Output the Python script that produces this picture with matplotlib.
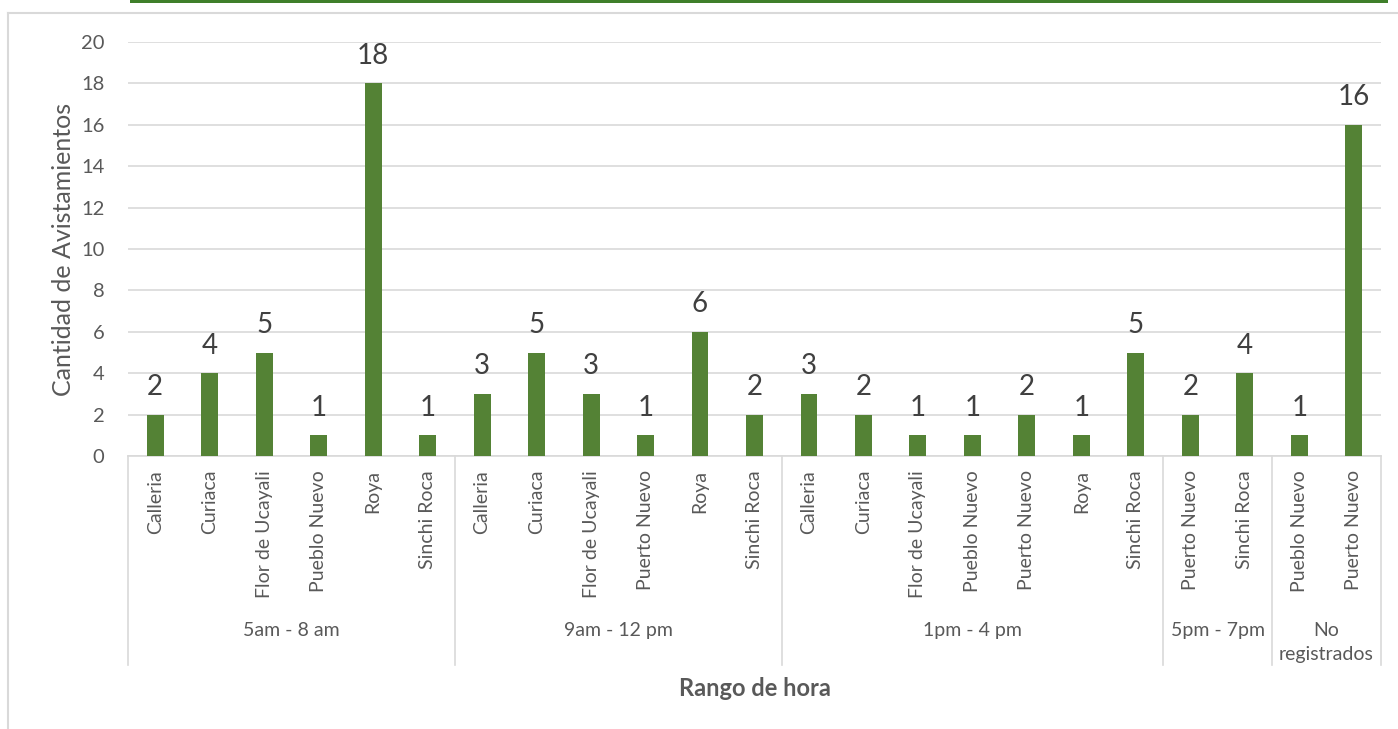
import matplotlib.pyplot as plt
import matplotlib.transforms as mtransforms
from matplotlib.lines import Line2D
from matplotlib.patches import Rectangle

plt.rcParams['font.family'] = ['Lato', 'DejaVu Sans']

# categorias por rango de hora
groups = ["5am - 8 am", "9am - 12 pm", "1pm - 4 pm", "5pm - 7pm", "No\nregistrados"]
places = [
    ["Calleria", "Curiaca", "Flor de Ucayali", "Pueblo Nuevo", "Roya", "Sinchi Roca"],
    ["Calleria", "Curiaca", "Flor de Ucayali", "Puerto Nuevo", "Roya", "Sinchi Roca"],
    ["Calleria", "Curiaca", "Flor de Ucayali", "Pueblo Nuevo", "Puerto Nuevo", "Roya", "Sinchi Roca"],
    ["Puerto Nuevo", "Sinchi Roca"],
    ["Pueblo Nuevo", "Puerto Nuevo"],
]
counts = [
    [2, 4, 5, 1, 18, 1],
    [3, 5, 3, 1, 6, 2],
    [3, 2, 1, 1, 2, 1, 5],
    [2, 4],
    [1, 16],
]

GREEN = '#548235'
TEXT = '#595959'
GRID = '#D9D9D9'

labels = [p for g in places for p in g]
values = [v for g in counts for v in g]
xs = list(range(len(values)))

W, H = 1398, 729
fig = plt.figure(figsize=(W / 100, H / 100), dpi=100, facecolor='white')
ax = fig.add_axes([128 / W, 1 - 456 / H, (1381 - 128) / W, (456 - 42) / H])

ax.bar(xs, values, width=0.31, color=GREEN, zorder=3)
for x, v in zip(xs, values):
    ax.annotate(str(v), (x, v), xytext=(0, 14), textcoords='offset points',
                ha='center', va='baseline', fontsize=20, color='#404040')

ax.set_xlim(-0.5, len(values) - 0.5)
ax.set_ylim(0, 20)
ax.set_yticks(range(0, 21, 2))
ax.grid(axis='y', color=GRID, lw=1.2, zorder=0)
ax.set_axisbelow(True)
for s in ('top', 'right', 'left'):
    ax.spines[s].set_visible(False)
ax.spines['bottom'].set_color(GRID)
ax.spines['bottom'].set_linewidth(1.2)
ax.tick_params(axis='y', length=0, pad=17, labelsize=14.5, labelcolor=TEXT)
ax.set_xticks(xs)
ax.set_xticklabels(labels, rotation=90, fontsize=14, color=TEXT)
ax.tick_params(axis='x', length=0, pad=10)

# separadores y etiquetas de grupo
trans = mtransforms.blended_transform_factory(ax.transData, ax.transAxes)
start = -0.5
bounds = [start]
for g in places:
    start += len(g)
    bounds.append(start)
for b in bounds:
    ax.add_line(Line2D([b, b], [0, -0.505], transform=trans, color=GRID,
                       lw=1.2, clip_on=False))
for i, name in enumerate(groups):
    mid = (bounds[i] + bounds[i + 1]) / 2
    ax.text(mid, -0.40, name, transform=trans, ha='center', va='top',
            fontsize=14, color=TEXT, linespacing=1.55)

ax.set_ylabel('Cantidad de Avistamientos', fontsize=18, color=TEXT, labelpad=4)
fig.text(755 / W, 1 - 688 / H, 'Rango de hora', ha='center', va='center',
         fontsize=17, fontweight='bold', color=TEXT)

# marco del grafico y linea superior
fig.add_artist(Line2D([8 / W, 8 / W], [0, 1 - 13 / H], color=GRID, lw=1.5))
fig.add_artist(Line2D([8 / W, 1], [1 - 13 / H, 1 - 13 / H], color=GRID, lw=1.5))
fig.add_artist(Rectangle((130 / W, 1 - 3 / H), (1388 - 130) / W, 3 / H,
                         transform=fig.transFigure, color='#3F7F2A', lw=0))

fig.savefig('out.png', dpi=100, facecolor='white')
